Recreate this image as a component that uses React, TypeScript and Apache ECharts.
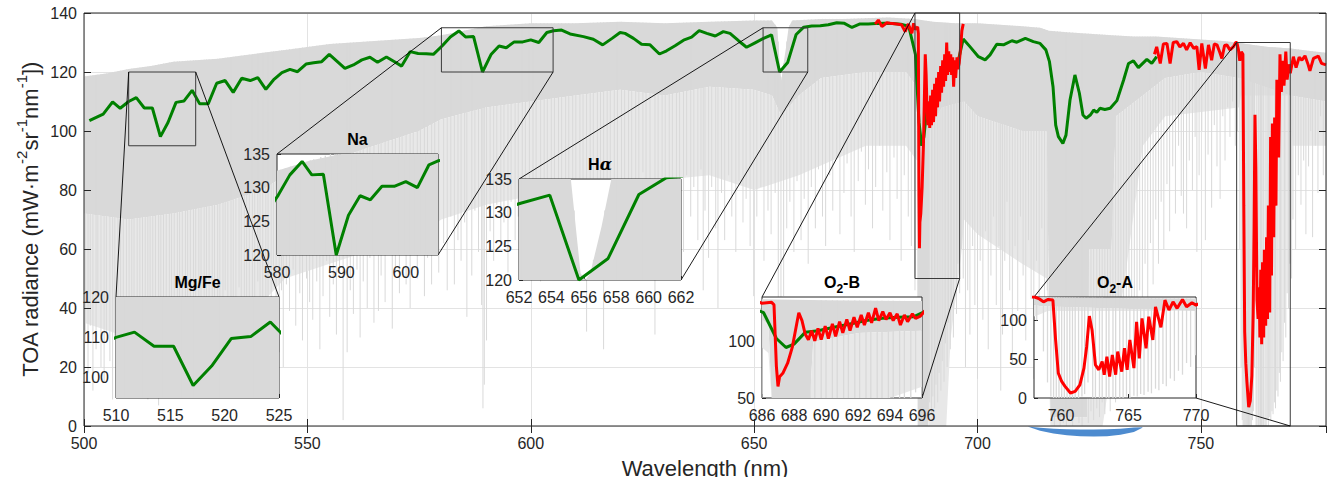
import React, { useEffect, useRef } from "react";
import * as echarts from "echarts";

const FONT = "'Liberation Sans', Arial, Helvetica, sans-serif";
const INK = "#262626";
const GRAY = "#d9d9d9";
const GRAY_LIGHT = "#e8e8e8";
const GREEN = "#008000";
const RED = "#ff0000";
const BLUE = "#4d8bcf";

// ---------- main axes ----------
const xMain = [500, 778];
const xStep = 50;
const yMain = [0, 140];
const yStep = 20;

// ---------- high-resolution spectrum (gray) ----------
// upper envelope of the gray spectrum
const envWl = [500, 505, 510, 515, 520, 525, 530, 535, 540, 545, 550, 555, 560, 565, 570, 575, 580, 585, 590, 595, 600, 610, 620, 630, 640, 650, 654, 655.2, 655.5, 655.8, 656.1, 656.4, 657.1, 657.7, 658.5, 665, 670, 680, 686, 690, 695, 700, 705, 710, 714, 716, 720, 725, 730, 735, 740, 745, 750, 755, 758, 760, 765, 770, 775, 778];
const envVal = [118.5, 119.5, 121, 122, 123.5, 124, 124.5, 125.5, 126.5, 127.5, 128.5, 129.5, 130, 130.5, 131, 131.5, 132.5, 134, 135.5, 136, 136.5, 136.5, 137, 136.5, 137, 137.5, 137.5, 135, 128, 121, 117, 121, 128, 135, 137.5, 138, 138, 138.5, 138, 137, 136.5, 136.5, 136, 135.5, 135, 134, 133.5, 133, 132.5, 132, 132, 131.5, 131, 130.5, 130, 129.5, 128.5, 128, 127, 126.5];
// lower edge of the densely filled part
const denseWl = [500, 510, 520, 530, 540, 545, 555, 565, 575, 580, 590, 600, 610, 620, 630, 640, 650, 654, 655.2, 656.1, 657.7, 660, 665, 675, 684, 686.4, 686.6, 689.0, 689.2, 692, 697, 700, 710, 715.5, 716.3, 724.5, 725, 730, 731, 737, 742, 750, 758.5, 770, 778];
const denseVal = [72, 70, 72, 75, 80, 85, 90, 95, 100, 104, 108, 110, 112, 114, 112, 115, 114, 112, 108, 105, 108, 112, 118, 120, 120, 115, 0, 0, 100, 108, 110, 105, 100, 100, 3, 3, 60, 60, 105, 112, 118, 120, 118, 112, 110];
// lower edge of the streaky (half-covered) part
const lightWl = [500, 510, 520, 530, 540, 545, 555, 565, 575, 580, 590, 600, 620, 640, 650, 660, 675, 684, 686.4, 686.6, 693, 694, 696.5, 697, 700, 710, 715.5, 716.3, 728, 733, 737, 742, 758.5, 759, 770, 770.5, 778];
const lightVal = [35, 30, 30, 35, 42, 50, 55, 60, 65, 70, 75, 78, 82, 85, 80, 85, 95, 95, 90, 0, 0, 30, 60, 70, 65, 55, 50, 0, 0, 50, 95, 105, 108, 112, 112, 95, 95];
// individual absorption lines [wavelength, minimum radiance]
const grayLines: [number, number][] = [
  [500.3, 28], [500.9, 18], [501.4, 34], [502.0, 12], [502.7, 26], [503.1, 44], [503.8, 20], [504.5, 15], [505.0, 32], [505.8, 22], [506.4, 9], [506.9, 30], [507.6, 18], [508.2, 38], [508.8, 13], [509.5, 27], [510.1, 21], [510.7, 33], [511.2, 15], [511.9, 26], [512.5, 40], [513.1, 17], [513.7, 11], [514.3, 9], [514.8, 29], [515.4, 20], [516.0, 35], [516.7, 7], [517.2, 19], [517.8, 31], [518.4, 23], [519.1, 12], [519.6, 37], [520.2, 26], [520.9, 17], [521.4, 31], [522.0, 10], [522.7, 24], [523.2, 38], [523.8, 21], [524.5, 14], [525.0, 29], [525.7, 42], [526.2, 19], [526.9, 33], [527.4, 12], [528.0, 27], [528.7, 39], [529.2, 22], [529.9, 31], [530.4, 15], [531.1, 35], [531.6, 46], [532.2, 24], [532.9, 14], [533.4, 39], [534.0, 28], [534.7, 47], [535.2, 19], [535.9, 34], [536.4, 43], [537.0, 17], [537.7, 36], [538.2, 26], [538.9, 49], [539.4, 30], [540.0, 21], [540.7, 41], [541.2, 34], [541.9, 27], [542.4, 51], [543.0, 37], [543.7, 25], [544.2, 46], [544.6, 20],
  [545.3, 48], [546.0, 39], [546.8, 53], [547.4, 34], [548.3, 45], [548.9, 29], [549.8, 50], [550.5, 42], [551.2, 36], [552.1, 49], [552.8, 26], [553.5, 44], [554.3, 56], [555.0, 37], [555.8, 48], [556.5, 31], [557.2, 52], [558.0, 2], [558.9, 25], [559.6, 46], [560.3, 38], [561.1, 53], [561.8, 30], [562.5, 49], [563.4, 40], [564.0, 57], [564.9, 35], [565.9, 39], [566.5, 51], [567.4, 42], [568.1, 59], [569.0, 33], [569.7, 52], [570.6, 45], [571.2, 61], [572.1, 48], [573.0, 40], [573.7, 58], [574.6, 50], [575.3, 63], [576.2, 44], [576.9, 57], [577.8, 48], [578.5, 66], [579.4, 52],
  [580.5, 62], [581.3, 46], [582.1, 71], [582.9, 48], [583.7, 63], [584.4, 56], [585.2, 69], [585.7, 37], [586.8, 51], [587.5, 73], [588.3, 59], [589.0, 41], [589.3, 6], [589.6, 14], [590.1, 29], [590.9, 66], [591.7, 56], [592.4, 75], [593.3, 61], [594.0, 69], [594.9, 52], [595.6, 76], [596.5, 63], [597.2, 71], [598.1, 56], [598.8, 79], [599.7, 65], [600.5, 58], [601.2, 73], [602.2, 49], [603.0, 67], [603.7, 77], [604.6, 61], [605.3, 71], [606.2, 55], [606.9, 76], [607.8, 63], [608.5, 81], [609.4, 59], [610.1, 71], [611.0, 65], [611.7, 77], [612.5, 32], [613.3, 69], [614.0, 79], [614.9, 61], [615.6, 73], [616.3, 26], [617.1, 67], [617.8, 81], [618.7, 59], [619.4, 75], [620.3, 65], [621.0, 83], [621.9, 57], [622.6, 71], [623.5, 79], [624.2, 63], [625.1, 86], [625.8, 69], [626.7, 75], [627.8, 31], [628.5, 61], [629.4, 77], [630.1, 51], [631.0, 71], [631.7, 83], [632.6, 65], [633.3, 79], [634.2, 59], [634.9, 85], [635.8, 71], [636.5, 81], [637.4, 63], [638.1, 87], [638.6, 46], [639.0, 73], [639.8, 57], [640.5, 81], [641.4, 67], [641.9, 40], [642.7, 79], [643.4, 63], [644.3, 85], [645.0, 71], [645.9, 59], [646.6, 83], [647.5, 69], [648.2, 77], [649.1, 61], [649.9, 44], [650.6, 71], [651.5, 81], [652.2, 56], [653.1, 73], [653.8, 65], [654.7, 79], [655.4, 42], [656.0, 30], [656.6, 44], [657.3, 67], [658.0, 76], [658.9, 59], [659.6, 83], [660.5, 63], [661.2, 77], [662.1, 55], [662.8, 81], [663.7, 67], [664.4, 87], [665.3, 71], [666.0, 61], [666.9, 85], [667.6, 73], [668.5, 91], [669.2, 65], [670.1, 79], [670.8, 89], [671.7, 71], [672.4, 59], [673.3, 83], [674.0, 93], [674.9, 75], [675.6, 87], [676.5, 67], [677.2, 81], [678.1, 95], [678.8, 73], [679.7, 86], [680.4, 63], [681.3, 91], [682.0, 77], [682.9, 56], [683.6, 85], [684.5, 71], [685.2, 61], [686.0, 46],
  [688.6, 5], [689.0, 3], [689.3, 8], [689.7, 4], [690.0, 10], [690.4, 6], [690.7, 14], [691.1, 8], [691.4, 18], [691.8, 12], [692.1, 22], [692.5, 15], [692.8, 28], [693.2, 20], [693.5, 35], [693.9, 26], [694.2, 40], [694.6, 30], [694.9, 50], [695.3, 38], [695.6, 55], [696.0, 45], [696.4, 60], [696.8, 50],
  [697.3, 20], [697.8, 46], [698.3, 31], [698.9, 61], [699.4, 41], [700.0, 16], [700.6, 56], [701.2, 36], [701.8, 66], [702.4, 26], [703.0, 51], [703.6, 71], [704.2, 41], [704.8, 61], [705.2, 12], [705.6, 31], [706.1, 56], [706.6, 76], [707.2, 46], [707.8, 21], [708.4, 61], [709.0, 39], [709.6, 71], [710.2, 51], [710.8, 29], [711.4, 63], [712.0, 43], [712.6, 16], [713.2, 56], [713.8, 36], [714.4, 67], [715.0, 26], [715.6, 46],
  [716.6, 2], [717.2, 0], [717.9, 3], [718.5, 0], [719.2, 1], [719.9, 0], [720.6, 2], [721.3, 0], [722.0, 4], [722.7, 1], [723.4, 0], [724.1, 3], [724.8, 1], [725.4, 5], [726.0, 2], [726.7, 6], [727.3, 3], [727.9, 8], [728.5, 4], [729.1, 10], [729.7, 5], [730.3, 14], [730.9, 8], [731.5, 20], [732.1, 12], [732.7, 26], [733.3, 15], [733.9, 34], [734.5, 22], [735.1, 40], [735.7, 28], [736.3, 46], [736.9, 33], [737.5, 55], [738.1, 40], [738.7, 62], [739.3, 48], [739.9, 70], [740.5, 55], [741.1, 76], [741.7, 60],
  [742.4, 82], [743.0, 66], [743.7, 88], [744.3, 72], [745.0, 95], [745.6, 78], [746.1, 72], [746.8, 67], [747.4, 90], [748.1, 80], [748.7, 98], [749.1, 59], [749.6, 85], [750.2, 100], [751.0, 63], [751.6, 92], [752.4, 74], [753.0, 102], [753.6, 88], [754.3, 77], [754.9, 105], [755.4, 90], [756.0, 108], [756.5, 98], [757.1, 110], [757.7, 95], [758.2, 100],
  [758.7, 60], [759.0, 20], [759.25, 2], [759.45, 0], [759.65, 0], [759.85, 0], [760.05, 0], [760.25, 0], [760.45, 0], [760.65, 0], [760.85, 0], [761.05, 0], [761.3, 0], [761.55, 2], [761.75, 5], [762.0, 20], [762.35, 0], [762.55, 0], [762.85, 0], [763.05, 0], [763.35, 0], [763.55, 0], [763.85, 0], [764.05, 0], [764.35, 0], [764.6, 0], [764.85, 2], [765.1, 0], [765.4, 3], [765.65, 2], [765.9, 5], [766.15, 4], [766.45, 8], [766.7, 6], [767.0, 12], [767.25, 10], [767.55, 18], [767.8, 15], [768.1, 25], [768.4, 22], [768.7, 35], [769.0, 30], [769.3, 45], [769.6, 40], [769.95, 55], [770.3, 50],
  [770.6, 70], [771.2, 60], [771.8, 85], [772.4, 75], [773.0, 90], [773.5, 65], [774.1, 88], [774.6, 100], [775.0, 64], [775.6, 95], [776.2, 79], [776.8, 105], [777.4, 85], [777.9, 100],
];

// ---------- convolved spectrum (green) ----------
const greenSpec: [number, number][] = [
  [501.2, 103.5], [504.3, 105.7], [506.4, 109.9], [508.1, 107.7], [510.0, 110.0], [511.7, 111.3], [513.5, 107.8], [515.3, 107.8], [517.1, 98.1], [518.8, 102.9], [520.6, 109.7], [522.4, 110.2], [524.2, 113.8], [525.9, 109.2], [527.8, 109.2], [529.7, 116.2], [531.6, 117.1], [533.4, 113.1], [535.3, 117.9], [537.2, 117.1], [538.9, 118.1], [540.7, 114.1], [542.4, 117.3], [544.3, 119.8], [546.1, 120.9], [547.8, 120.1], [549.7, 122.7], [551.4, 123.1], [553.2, 123.5], [554.9, 126.0], [558.4, 121.2], [560.3, 122.4], [562.2, 124.1], [564.0, 125.0], [565.7, 123.3], [567.7, 125.1], [569.5, 123.5], [571.1, 122.0], [573.0, 126.9], [574.8, 126.3], [576.6, 126.2], [578.2, 126.0],
  [580.2, 128.9], [582.0, 131.9], [583.9, 133.9], [585.4, 131.9], [587.2, 132.0], [589.2, 120.0], [591.1, 125.9], [592.9, 128.8], [594.5, 128.2], [596.3, 130.2], [598.2, 130.2], [600.0, 130.9], [601.8, 130.0], [603.6, 133.4], [605.1, 134.0], [606.9, 134.2], [608.8, 132.9], [611.8, 132.0], [614.0, 131.1], [616.1, 129.2], [618.2, 131.4], [620.0, 133.4], [621.1, 133.1], [623.0, 131.4], [624.8, 129.4], [626.7, 129.2], [628.8, 126.1], [630.4, 127.2], [632.3, 128.9], [634.2, 130.8], [636.0, 131.8], [637.7, 134.0], [639.4, 133.1], [641.3, 132.2], [643.1, 133.7], [644.6, 133.1], [646.5, 130.6], [648.3, 128.4], [650.2, 129.9], [652.1, 131.4], [653.9, 132.6], [655.7, 120.0], [657.5, 123.2], [659.4, 132.7], [661.1, 135.2], [662.9, 135.6], [664.8, 135.7], [666.6, 136.0], [668.5, 136.7], [670.2, 136.5], [671.9, 135.1], [673.7, 136.3], [675.5, 136.3], [677.3, 136.4],
  [679.2, 136.5], [681.0, 136.4], [682.8, 136.2], [684.6, 135.5], [686.1, 126.0], [686.9, 103.0], [687.5, 95.0], [688.0, 98.0], [688.7, 108.5], [689.5, 110.0], [690.5, 113.0], [691.5, 116.0], [692.5, 119.0], [693.5, 121.0], [694.5, 122.0], [695.5, 122.5], [696.8, 131.2], [698.3, 128.6], [700.2, 125.2], [701.7, 124.1], [702.8, 125.8], [704.3, 129.4], [705.8, 129.2], [707.7, 130.6], [708.8, 130.1], [710.7, 131.4], [712.5, 130.3], [714.0, 129.7], [715.3, 127.5], [716.1, 123.5], [716.9, 115.0], [717.5, 102.0], [718.1, 98.1], [719.1, 95.8], [719.8, 98.6], [720.7, 110.5], [721.8, 119.0], [722.8, 112.8], [723.6, 105.4], [724.3, 104.3], [725.3, 105.5], [726.0, 107.1], [726.7, 106.3], [727.4, 107.7], [728.5, 107.3], [729.7, 107.7], [731.2, 110.3], [732.7, 117.3], [733.8, 122.9], [734.9, 123.8], [736.0, 121.5], [737.9, 124.3], [739.0, 122.9], [740.1, 125.2],
];

// ---------- red spectra in the O2 bands ----------
const redO2B: [number, number][] = [
  [677.1, 136.2], [677.8, 137.6], [678.6, 135.4], [679.7, 136.7], [680.4, 136.5], [681.9, 136.3], [683.0, 136.0], [683.8, 133.7], [684.5, 136.3], [685.3, 133.1], [685.7, 136.5], [686.0, 134.4], [686.6, 135.3], [686.75, 133.0], [686.9, 78.0], [687.0, 60.3], [687.1, 69.0], [687.3, 72.0], [687.6, 81.0], [687.9, 95.6], [688.3, 126.0], [688.5, 119.0], [688.7, 107.0], [688.9, 102.0], [689.1, 110.0], [689.3, 101.0], [689.5, 112.0], [689.7, 102.0], [689.95, 114.0], [690.15, 103.0], [690.4, 116.0], [690.6, 105.0], [690.85, 118.0], [691.05, 108.0], [691.3, 120.0], [691.5, 110.0], [691.75, 122.0], [691.95, 113.0], [692.2, 124.0], [692.4, 115.0], [692.65, 126.0], [692.85, 117.0], [693.1, 130.0], [693.3, 119.0], [693.55, 127.0], [693.75, 120.0], [694.0, 126.0], [694.2, 119.0], [694.45, 125.0], [694.65, 115.0], [694.9, 124.0], [695.1, 118.0], [695.4, 125.0], [695.6, 121.0], [695.9, 123.0], [696.2, 128.0], [696.5, 134.0], [696.8, 136.3],
];
const redO2A: [number, number][] = [
  [739.6, 126.0], [740.1, 128.5], [740.9, 122.9], [741.6, 129.5], [742.4, 129.7], [743.1, 122.9], [743.8, 130.0], [744.6, 130.3], [745.3, 128.5], [746.1, 129.7], [746.8, 127.5], [747.6, 129.9], [748.4, 128.0], [749.1, 128.6], [749.6, 120.7], [750.2, 129.7], [751.0, 121.2], [751.7, 129.2], [752.4, 124.0], [753.0, 129.5], [753.6, 129.2], [754.2, 126.8], [754.7, 124.6], [755.3, 129.0], [755.8, 129.2], [756.5, 127.5], [757.3, 128.6], [757.8, 130.0], [758.05, 130.0], [758.4, 127.5], [758.7, 123.8], [759.05, 126.9], [759.4, 126.0], [759.6, 74.7], [759.8, 32.0], [760.05, 21.3], [760.3, 14.9], [760.7, 6.4], [761.05, 8.5], [761.4, 17.0], [761.7, 38.5], [761.9, 66.0], [762.1, 105.5], [762.3, 87.6], [762.55, 42.7], [762.8, 36.3], [763.05, 47.0], [763.2, 30.0], [763.4, 53.0], [763.6, 27.7], [763.8, 55.5], [764.05, 30.0], [764.2, 59.7], [764.5, 34.0], [764.7, 64.0], [764.9, 36.3], [765.1, 74.7], [765.4, 38.5], [765.6, 98.0], [765.8, 51.0], [766.0, 102.5], [766.3, 64.0], [766.5, 104.6], [766.8, 74.7], [767.0, 117.4], [767.4, 91.0], [767.7, 126.0], [768.0, 113.2], [768.3, 123.8], [768.6, 115.4], [769.0, 126.9], [769.3, 117.4], [769.7, 122.6], [770.0, 119.6], [770.7, 125.2], [771.3, 121.5], [772.0, 125.0], [772.6, 124.0], [773.3, 125.5], [774.0, 122.5], [774.4, 120.4], [775.2, 124.6], [776.3, 125.4], [777.0, 122.9], [778.0, 122.4],
];

// ---------- blue band below the axis ----------
const blueWl = [711.2, 714, 717, 720, 723, 726, 729, 732, 735, 736.9];
const blueTop = [-0.2, -0.6, -0.9, -1.1, -1.2, -1.2, -1.1, -0.9, -0.5, -0.4];
const blueBottom = [-0.2, -1.6, -2.5, -3.1, -3.5, -3.6, -3.5, -3.0, -2.0, -0.6];

// ---------- zoom insets ----------
const insetTitles = ["{b|Mg/Fe}", "{b|Na}", "{b|H}{a|α}", "{b|O}{s|2}{b|-B}", "{b|O}{s|2}{b|-A}"];
const insetXRange = [[510, 525], [580, 605], [652, 662], [686, 696], [758, 770]];
const insetYRange = [[95, 120], [120, 135], [120, 135], [50, 140], [0, 130]];
const insetXTicks = [[510, 515, 520, 525], [580, 590, 600], [652, 654, 656, 658, 660, 662], [686, 688, 690, 692, 694, 696], [760, 765, 770]];
const insetYTicks = [[100, 110, 120], [120, 125, 130, 135], [120, 125, 130, 135], [50, 100], [0, 50, 100]];
const insetLinks = [
  [["tl", "tl"], ["tr", "tr"]],
  [["tl", "tl"], ["br", "br"]],
  [["tl", "tl"], ["br", "br"]],
  [["tl", "tl"], ["br", "br"]],
  [["tl", "tl"], ["br", "br"]],
];
// layout of the inset boxes [left, top, width, height] in px
const insetBox = [[116, 297, 163, 101], [277, 154, 161, 101], [519, 179, 162, 101], [762, 297, 160, 101], [1034, 297, 162, 101]];
const MAIN_BOX = [84, 13, 1242, 413];

function interp(xs: number[], ys: number[], x: number) {
  if (x <= xs[0]) return ys[0];
  for (let i = 1; i < xs.length; i++) {
    if (x <= xs[i]) {
      const t = (x - xs[i - 1]) / (xs[i] - xs[i - 1]);
      return ys[i - 1] + t * (ys[i] - ys[i - 1]);
    }
  }
  return ys[ys.length - 1];
}

function clampPts(pts: number[][], cs: any) {
  return pts.map((p) => [
    Math.max(cs.x, Math.min(cs.x + cs.width, p[0])),
    Math.max(cs.y, Math.min(cs.y + cs.height, p[1])),
  ]);
}

function bandRender(tx: number[], ty: number[], bx: number[], by: number[], color: string, clip = true) {
  return (params: any, api: any) => {
    const cs = params.coordSys;
    const pts: number[][] = [];
    for (let i = 0; i < tx.length; i++) pts.push(api.coord([tx[i], ty[i]]));
    for (let i = bx.length - 1; i >= 0; i--) pts.push(api.coord([bx[i], by[i]]));
    return {
      type: "polygon",
      shape: { points: clip ? clampPts(pts, cs) : pts },
      style: { fill: color, stroke: null },
      silent: true,
    };
  };
}

function linesRender(lw: number) {
  return (params: any, api: any) => {
    const cs = params.coordSys;
    const x = api.value(0);
    const d = api.value(1);
    const top = interp(envWl, envVal, x);
    const a = api.coord([x, top]);
    const b = api.coord([x, d]);
    if (a[0] < cs.x || a[0] > cs.x + cs.width) return null;
    const cl = (v: number) => Math.max(cs.y, Math.min(cs.y + cs.height, v));
    return {
      type: "line",
      shape: { x1: a[0], y1: cl(a[1]), x2: a[0], y2: cl(b[1]) },
      style: { stroke: GRAY, lineWidth: lw },
      silent: true,
    };
  };
}

function spectrumSeries(xi: number, yi: number, z: number, lineW: number, grayW: number) {
  const base = { xAxisIndex: xi, yAxisIndex: yi, silent: true, animation: false };
  return [
    { ...base, type: "custom", z, clip: true, data: [[0, 0]], renderItem: bandRender(envWl, envVal, denseWl, denseVal, GRAY) },
    { ...base, type: "custom", z, clip: true, data: [[0, 0]], renderItem: bandRender(denseWl, denseVal, lightWl, lightVal, GRAY_LIGHT) },
    { ...base, type: "custom", z: z + 1, clip: true, data: grayLines, renderItem: linesRender(grayW) },
    { ...base, type: "line", z: z + 2, clip: true, data: greenSpec, showSymbol: false, symbol: "none", lineStyle: { color: GREEN, width: lineW } },
    { ...base, type: "line", z: z + 3, clip: true, data: redO2B, showSymbol: false, symbol: "none", lineStyle: { color: RED, width: lineW } },
    { ...base, type: "line", z: z + 3, clip: true, data: redO2A, showSymbol: false, symbol: "none", lineStyle: { color: RED, width: lineW } },
  ];
}

const tickLabel = { fontFamily: FONT, fontSize: 16, color: INK };

function buildOption() {
  const grids: any[] = [
    { left: MAIN_BOX[0], top: MAIN_BOX[1], width: MAIN_BOX[2], height: MAIN_BOX[3], show: true, borderColor: INK, borderWidth: 1, backgroundColor: "transparent", z: 5, containLabel: false, outerBoundsMode: "none" },
  ];
  const mainCommonX = { type: "value", gridIndex: 0, min: xMain[0], max: xMain[1], interval: xStep };
  const mainCommonY = { type: "value", gridIndex: 0, min: yMain[0], max: yMain[1], interval: yStep };
  const xAxes: any[] = [
    {
      ...mainCommonX, position: "bottom", z: 6,
      axisLine: { show: false }, splitLine: { show: false },
      axisTick: { inside: true, length: 7, lineStyle: { color: INK } },
      axisLabel: { ...tickLabel, margin: 9, showMaxLabel: false },
      name: "Wavelength (nm)", nameLocation: "middle", nameGap: 31, nameMoveOverlap: false,
      nameTextStyle: { fontFamily: FONT, fontSize: 22, color: INK },
    },
    {
      ...mainCommonX, position: "top", z: 6,
      axisLine: { show: false }, splitLine: { show: false }, axisLabel: { show: false },
      axisTick: { inside: true, length: 7, lineStyle: { color: INK } },
    },
    {
      ...mainCommonX, position: "bottom", z: 0,
      axisLine: { show: false }, axisTick: { show: false }, axisLabel: { show: false },
      splitLine: { show: true, lineStyle: { color: "#e3e3e3", width: 1 } },
    },
  ];
  const yAxes: any[] = [
    {
      ...mainCommonY, position: "left", z: 6,
      axisLine: { show: false }, splitLine: { show: false },
      axisTick: { inside: true, length: 7, lineStyle: { color: INK } },
      axisLabel: { ...tickLabel, margin: 7 },
      name: "{n|TOA radiance (mW·m}{s|-2}{n|sr}{s|-1}{n|nm}{s|-1}{n|])}",
      nameLocation: "middle", nameGap: 44, nameMoveOverlap: false,
      nameTextStyle: {
        rich: {
          n: { fontFamily: FONT, fontSize: 22, color: INK, lineHeight: 26, padding: [5, 0, 0, 0], verticalAlign: "top" },
          s: { fontFamily: FONT, fontSize: 15, color: INK, lineHeight: 17, verticalAlign: "top" },
        },
      },
    },
    {
      ...mainCommonY, position: "right", z: 6,
      axisLine: { show: false }, splitLine: { show: false }, axisLabel: { show: false },
      axisTick: { inside: true, length: 7, lineStyle: { color: INK } },
    },
    {
      ...mainCommonY, position: "left", z: 0,
      axisLine: { show: false }, axisTick: { show: false }, axisLabel: { show: false },
      splitLine: { show: true, lineStyle: { color: "#e3e3e3", width: 1 } },
    },
  ];

  const series: any[] = [...spectrumSeries(0, 0, 1, 3, 1)];

  // zoom rectangles on the main axes
  series.push({
    type: "custom", xAxisIndex: 0, yAxisIndex: 0, z: 5, silent: true,
    dimensions: ["x0", "y0", "x1", "y1"],
    encode: { x: [0, 2], y: [1, 3] },
    data: insetXRange.map((xr, i) => [xr[0], insetYRange[i][0], xr[1], insetYRange[i][1]]),
    renderItem: (params: any, api: any) => {
      const p0 = api.coord([api.value(0), api.value(1)]);
      const p1 = api.coord([api.value(2), api.value(3)]);
      return {
        type: "rect",
        shape: { x: p0[0], y: p1[1], width: p1[0] - p0[0], height: p0[1] - p1[1] },
        style: { fill: null, stroke: "#3a3a3a", lineWidth: 1 },
        silent: true,
      };
    },
  });
  // blue band below the axis
  series.push({
    type: "custom", xAxisIndex: 0, yAxisIndex: 0, z: 4, silent: true, clip: false,
    data: [[blueWl[0], 0]],
    renderItem: bandRender(blueWl, blueTop, blueWl, blueBottom, BLUE, false),
  });

  insetBox.forEach((b, i) => {
    const gi = i + 1;
    grids.push({ left: b[0], top: b[1], width: b[2], height: b[3], show: true, backgroundColor: "#ffffff", borderColor: INK, borderWidth: 1, z: 10, containLabel: false, outerBoundsMode: "none" });
    xAxes.push({
      type: "value", gridIndex: gi, min: insetXRange[i][0], max: insetXRange[i][1], position: "bottom", z: 11,
      axisLine: { show: false }, splitLine: { show: false },
      axisTick: { inside: true, length: 4, customValues: insetXTicks[i], lineStyle: { color: INK } },
      axisLabel: { ...tickLabel, margin: 9, customValues: insetXTicks[i] },
    });
    yAxes.push({
      type: "value", gridIndex: gi, min: insetYRange[i][0], max: insetYRange[i][1], position: "left", z: 11,
      axisLine: { show: false }, splitLine: { show: false },
      axisTick: { inside: true, length: 4, customValues: insetYTicks[i], lineStyle: { color: INK } },
      axisLabel: { ...tickLabel, margin: 7, customValues: insetYTicks[i] },
    });
    series.push(...spectrumSeries(3 + i, 3 + i, 12, 3, 1.3));
  });

  return {
    animation: false,
    backgroundColor: "#ffffff",
    grid: grids,
    xAxis: xAxes,
    yAxis: yAxes,
    series,
  };
}

export default function App() {
  const ref = useRef<HTMLDivElement>(null);
  useEffect(() => {
    if (!ref.current) return;
    const chart = echarts.init(ref.current, null, { renderer: "svg" });
    chart.setOption(buildOption() as any);

    const corner = (xr: number[], yr: number[], c: string) =>
      c === "tl" ? [xr[0], yr[1]] : c === "tr" ? [xr[1], yr[1]] : c === "bl" ? [xr[0], yr[0]] : [xr[1], yr[0]];

    const elements: any[] = [];
    insetLinks.forEach((links, i) => {
      links.forEach(([from, to]) => {
        const a = chart.convertToPixel({ xAxisIndex: 0, yAxisIndex: 0 } as any, corner(insetXRange[i], insetYRange[i], from)) as any;
        const b = chart.convertToPixel({ xAxisIndex: 3 + i, yAxisIndex: 3 + i } as any, corner(insetXRange[i], insetYRange[i], to)) as any;
        elements.push({
          type: "line", z: 7, silent: true,
          shape: { x1: a[0], y1: a[1], x2: b[0], y2: b[1] },
          style: { stroke: "#000000", lineWidth: 0.9 },
        });
      });
    });
    const richTitle = {
      b: { fontFamily: FONT, fontSize: 16, fontWeight: "bold", fill: "#000", color: "#000", lineHeight: 18, verticalAlign: "top" },
      a: { fontFamily: "'DejaVu Serif', 'Liberation Serif', serif", fontStyle: "italic", fontWeight: "bold", fontSize: 16, fill: "#000", color: "#000", lineHeight: 18, verticalAlign: "top" },
      s: { fontFamily: FONT, fontSize: 12, fontWeight: "bold", fill: "#000", color: "#000", lineHeight: 12, padding: [9, 0, 0, 0], verticalAlign: "top" },
    };
    insetBox.forEach((b, i) => {
      elements.push({
        type: "text", z: 20, silent: true,
        x: b[0] + b[2] / 2, y: b[1] - 14,
        style: { text: insetTitles[i], rich: richTitle, textAlign: "center", textVerticalAlign: "middle", align: "center", verticalAlign: "middle" },
      });
    });
    chart.setOption({ graphic: { elements } } as any);

    return () => chart.dispose();
  }, []);
  return (
    <div
      ref={ref}
      style={{ position: "fixed", left: 0, top: 0, width: 1327, height: 477, background: "#fff" }}
    />
  );
}
